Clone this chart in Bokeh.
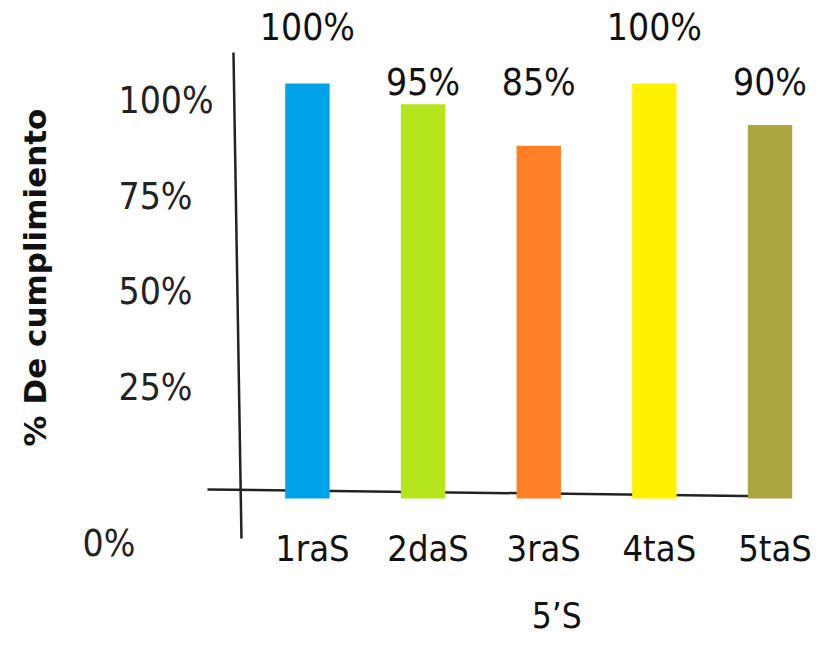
import math
from bokeh.plotting import figure
from bokeh.models import Range1d, ColumnDataSource
from bokeh.core.properties import value
from bokeh.embed import file_html
from bokeh.resources import INLINE

# ---- data ----
categories = ["1raS", "2daS", "3raS", "4taS", "5taS"]
values = [100, 95, 85, 100, 90]
value_labels = ["100%", "95%", "85%", "100%", "90%"]
colors = ["#00a2e8", "#b5e61d", "#ff7f27", "#fff200", "#aca441"]
tick_values = [25, 50, 75, 100]
tick_labels = ["25%", "50%", "75%", "100%"]
zero_label = "0%"
y_title = "% De cumplimiento"
x_title = "5\u2019S"

FONT = "DejaVu Sans Condensed"

p = figure(width=813, height=645, output_backend="svg", toolbar_location=None,
           x_axis_location=None, y_axis_location=None, min_border=0,
           x_range=Range1d(-2.654, 4.376), y_range=Range1d(-35.42, 120.0))
p.outline_line_color = None
p.xgrid.visible = False
p.ygrid.visible = False
p.extra_y_ranges = {"ticks": Range1d(-42.41, 126.13)}

idx = list(range(len(categories)))

# axis lines (slightly skewed, as drawn in the reference)
p.segment(x0=[-0.6395], y0=[107.47], x1=[-0.5703], y1=[-9.64], line_color="#222222", line_width=2.5)
p.segment(x0=[-0.8643], y0=[2.17], x1=[4.177], y1=[0.48], line_color="#222222", line_width=2.5)

src = ColumnDataSource(dict(x=idx, top=values, color=colors, cat=categories,
                            lab=value_labels,
                            ly=[113.5 if v >= max(values) else 100.2 for v in values]))
p.vbar(x="x", top="top", bottom=0, width=0.384, fill_color="color", line_color=None, source=src)

# value labels
p.text(x="x", y="ly", text="lab", source=src, text_font=value(FONT), text_font_size="37px",
       text_align="center", text_baseline="middle", text_color="#111111")

# category labels
p.text(x="x", y=-12.05, text="cat", source=src, x_offset=5, text_font=value(FONT),
       text_font_size="36px", text_align="center", text_baseline="middle", text_color="#111111")

# y tick labels
tsrc = ColumnDataSource(dict(y=tick_values, t=tick_labels))
p.text(x=-1.634, y="y", text="t", source=tsrc, y_range_name="ticks", text_font=value(FONT),
       text_font_size="37px", text_align="left", text_baseline="middle", text_color="#222222")
p.text(x=[-1.945], y=[0], text=[zero_label], y_range_name="ticks", y_offset=60,
       text_font=value(FONT), text_font_size="37px", text_align="left", text_baseline="middle",
       text_color="#222222")

# axis titles
p.text(x=[-2.352], y=[53.25], text=[y_title], angle=math.pi / 2, text_font=value("DejaVu Sans"),
       text_font_style="bold", text_font_size="31px", text_align="center", text_baseline="middle",
       text_color="#111111")
p.text(x=[2], y=[-28.3], text=[x_title], x_offset=18, text_font=value(FONT), text_font_size="35px",
       text_align="center", text_baseline="middle", text_color="#111111")

open("out.html", "w").write(file_html(p, INLINE))
